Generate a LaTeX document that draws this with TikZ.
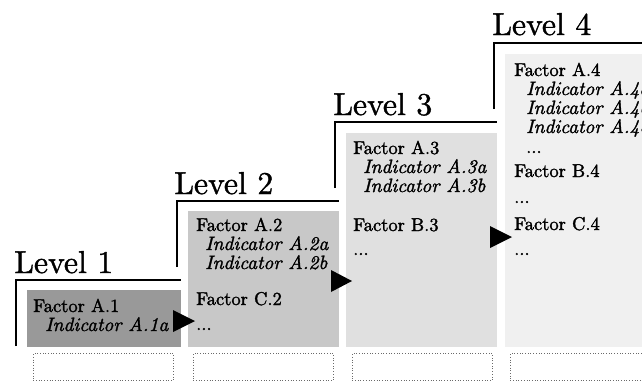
\documentclass[tikz,border=0pt]{standalone}
\usepackage{fontspec}
\newfontfamily\bodyrm{lmroman10-regular.otf}[FakeBold=1.6]
\newfontfamily\bodyit{lmroman10-italic.otf}[FakeBold=1.6]
\newfontfamily\lvlrm{lmroman10-regular.otf}[FakeBold=1.2]
\definecolor{gA}{HTML}{999999}
\definecolor{gB}{HTML}{C8C8C8}
\definecolor{gC}{HTML}{E0E0E0}
\definecolor{gD}{HTML}{F0F0F0}
\definecolor{dotc}{HTML}{6A6A6A}
\tikzset{
  lvbox/.style={anchor=north west, draw=none, inner sep=0, outer sep=0},
  slot/.style={anchor=north west, draw=dotc, dotted, line width=0.7pt, inner sep=0, minimum width=140pt, minimum height=27pt},
  fac/.style={anchor=base west, inner sep=0, font=\bodyrm\fontsize{18.5}{19}\selectfont},
  ind/.style={anchor=base west, inner sep=0, font=\bodyit\fontsize{19.3}{19}\selectfont},
  lvl/.style={anchor=base west, inner sep=0, font=\lvlrm\fontsize{31.7}{33}\selectfont},
  brk/.style={line width=2pt},
  tri/.style={fill=black, draw=none}
}
\begin{document}
\begin{tikzpicture}[x=1pt,y=-1pt]
\useasboundingbox (0,0) rectangle (642,381);
\clip (0,0) rectangle (642,381);
% boxes
\node[lvbox, fill=gA, minimum width=154pt, minimum height=57pt] (b1) at (27,290) {};
\node[lvbox, fill=gB, minimum width=151pt, minimum height=136pt] (b2) at (188,211) {};
\node[lvbox, fill=gC, minimum width=151pt, minimum height=214pt] (b3) at (346,133) {};
\node[lvbox, fill=gD, minimum width=160pt, minimum height=293pt] (b4) at (505,54) {};
% slots
\node[slot] (s1) at (33,353) {};
\node[slot] (s2) at (193,353) {};
\node[slot] (s3) at (352,353) {};
\node[slot] (s4) at (510,353) {};
% level titles
\node[lvl] (l1) at (14,273) {Level 1};
\node[lvl] (l2) at (174,194) {Level 2};
\node[lvl] (l3) at (333,115) {Level 3};
\node[lvl] (l4) at (492,35) {Level 4};
% brackets
\coordinate (k1a) at (16,346); \coordinate (k1b) at (16,280); \coordinate (k1c) at (181,280);
\coordinate (k2a) at (177,267); \coordinate (k2b) at (177,201); \coordinate (k2c) at (339,201);
\coordinate (k3a) at (335,188); \coordinate (k3b) at (335,122); \coordinate (k3c) at (497,122);
\coordinate (k4a) at (494,109); \coordinate (k4b) at (494,43); \coordinate (k4c) at (660,43);
\draw[brk] (k1a) -- (k1b) -- (k1c);
\draw[brk] (k2a) -- (k2b) -- (k2c);
\draw[brk] (k3a) -- (k3b) -- (k3c);
\draw[brk] (k4a) -- (k4b) -- (k4c);
% box 1 text
\node[fac] (t11) at (33,312) {Factor A.1};
\node[ind] (t12) at (45,331) {Indicator A.1a};
% box 2 text
\node[fac] (t21) at (196,231) {Factor A.2};
\node[ind] (t22) at (205,250) {Indicator A.2a};
\node[ind] (t23) at (205,269) {Indicator A.2b};
\node[fac] (t24) at (196,305) {Factor C.2};
\node[fac] (t25) at (196,330) {...};
% box 3 text
\node[fac] (t31) at (353,154) {Factor A.3};
\node[ind] (t32) at (363,173) {Indicator A.3a};
\node[ind] (t33) at (363,192) {Indicator A.3b};
\node[fac] (t34) at (353,231) {Factor B.3};
\node[fac] (t35) at (353,255) {...};
% box 4 text
\node[fac] (t41) at (514,76) {Factor A.4};
\node[ind] (t42) at (526,95) {Indicator A.4a};
\node[ind] (t43) at (526,114) {Indicator A.4b};
\node[ind] (t44) at (526,133) {Indicator A.4c};
\node[fac] (t45) at (526,153) {...};
\node[fac] (t46) at (514,177) {Factor B.4};
\node[fac] (t47) at (514,203) {...};
\node[fac] (t48) at (514,230) {Factor C.4};
\node[fac] (t49) at (514,255) {...};
% arrow heads
\fill[tri] (173,310) -- (195,321) -- (173,332) -- cycle;
\fill[tri] (331,270) -- (352,281) -- (331,292) -- cycle;
\fill[tri] (490,226) -- (512,237) -- (490,248) -- cycle;
\end{tikzpicture}
\end{document}
